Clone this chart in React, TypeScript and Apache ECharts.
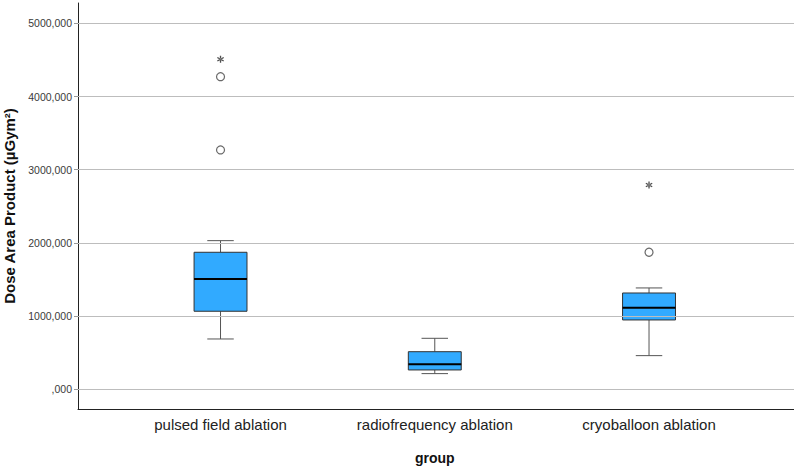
import React, { useEffect, useRef } from "react";
import * as echarts from "echarts";

const categories = ["pulsed field ablation", "radiofrequency ablation", "cryoballoon ablation"];
// [min whisker, Q1, median, Q3, max whisker]
const boxStats = [
  [684, 1063, 1505, 1870, 2029],
  [210, 260, 338, 510, 693],
  [456, 944, 1112, 1313, 1382],
];
const outliers = [
  [0, 4272],
  [0, 3270],
  [2, 1870],
];
const extremes = [
  [0, 4510],
  [2, 2790],
];
const yTicks = [0, 1000, 2000, 3000, 4000, 5000];
const yMin = -274;
const yMax = 5280;

const FONT = "'Liberation Sans', Arial, sans-serif";
const ASTERISK =
  "path://M-0.18,-1L0.18,-1L0.18,1L-0.18,1Z" +
  "M0.776,0.656L0.956,0.344L-0.776,-0.656L-0.956,-0.344Z" +
  "M0.956,-0.344L0.776,-0.656L-0.956,0.344L-0.776,0.656Z";

export default function App() {
  const ref = useRef<HTMLDivElement>(null);
  useEffect(() => {
    if (!ref.current) return;
    const chart = echarts.init(ref.current, null, { renderer: "svg" });
    const fmt = (v: number) => (v === 0 ? ",000" : yTicks.includes(v) ? `${v},000` : "");
    chart.setOption({
      animation: false,
      backgroundColor: "#ffffff",
      grid: [
        { left: 78, right: 0, top: 3, bottom: 57, containLabel: false, outerBoundsMode: "none" },
        { left: 113.4, right: 37.85, top: 3, bottom: 57, containLabel: false, outerBoundsMode: "none" },
      ],
      xAxis: [
        {
          type: "value",
          gridIndex: 0,
          min: 0,
          max: 1,
          axisLine: { show: true, onZero: false, lineStyle: { color: "#222", width: 1 } },
          axisTick: { show: false },
          axisLabel: { show: false },
          splitLine: { show: false },
        },
        {
          type: "category",
          gridIndex: 1,
          data: categories,
          axisLine: { show: false },
          axisTick: { show: false },
          axisLabel: { interval: 0, fontSize: 15, color: "#222", margin: 8, fontFamily: FONT },
          splitLine: { show: false },
          name: "group",
          nameLocation: "middle",
          nameGap: 42,
          nameTextStyle: { fontSize: 14, fontWeight: "bold", color: "#111", fontFamily: FONT },
        },
      ],
      yAxis: [
        {
          type: "value",
          gridIndex: 0,
          min: yMin,
          max: yMax,
          splitNumber: 5,
          axisLine: { show: true, onZero: false, lineStyle: { color: "#222", width: 1 } },
          axisTick: { show: true, length: 4, lineStyle: { color: "#999" }, customValues: yTicks },
          axisLabel: {
            fontSize: 10.5,
            color: "#3a3a3a",
            margin: 6,
            fontFamily: FONT,
            customValues: yTicks,
            formatter: fmt,
          },
          splitLine: { show: false },
          name: "Dose Area Product (µGym²)",
          nameLocation: "middle",
          nameRotate: 90,
          nameGap: 57,
          nameTextStyle: { fontSize: 15, fontWeight: "bold", color: "#111", fontFamily: FONT },
        },
        {
          type: "value",
          gridIndex: 1,
          min: yMin,
          max: yMax,
          show: false,
          splitLine: { show: false },
        },
      ],
      series: [
        {
          type: "scatter",
          xAxisIndex: 0,
          yAxisIndex: 0,
          data: [[0.5, -10000]],
          symbolSize: 0,
          silent: true,
          markLine: {
            silent: true,
            symbol: "none",
            label: { show: false },
            lineStyle: { color: "#bdbdbd", width: 1, type: "solid" },
            data: yTicks.map((v) => ({ yAxis: v })),
          },
        },
        {
          type: "custom",
          xAxisIndex: 1,
          yAxisIndex: 1,
          encode: { x: 0, y: [1, 2, 3, 4, 5] },
          data: boxStats.map((s, i) => [i, ...s]),
          renderItem: (params: any, api: any) => {
            const idx = api.value(0);
            const c = (k: number) => api.coord([idx, api.value(k)]);
            const [cx, yLo] = c(1);
            const yQ1 = c(2)[1];
            const yMed = c(3)[1];
            const yQ3 = c(4)[1];
            const yHi = c(5)[1];
            const band = api.size([1, 0])[0];
            const bw = band * 0.247;
            const cw = bw * 0.5;
            const ws = { stroke: "#555", lineWidth: 1 };
            return {
              type: "group",
              children: [
                { type: "line", shape: { x1: cx, y1: yHi, x2: cx, y2: yQ3 }, style: ws },
                { type: "line", shape: { x1: cx, y1: yQ1, x2: cx, y2: yLo }, style: ws },
                { type: "line", shape: { x1: cx - cw / 2, y1: yHi, x2: cx + cw / 2, y2: yHi }, style: ws },
                { type: "line", shape: { x1: cx - cw / 2, y1: yLo, x2: cx + cw / 2, y2: yLo }, style: ws },
                {
                  type: "rect",
                  shape: { x: cx - bw / 2, y: yQ3, width: bw, height: yQ1 - yQ3 },
                  style: { fill: "#31aaff", stroke: "#333", lineWidth: 1 },
                },
                {
                  type: "line",
                  shape: { x1: cx - bw / 2, y1: yMed, x2: cx + bw / 2, y2: yMed },
                  style: { stroke: "#000", lineWidth: 2 },
                },
              ],
            };
          },
        },
        {
          type: "scatter",
          xAxisIndex: 1,
          yAxisIndex: 1,
          data: outliers,
          symbol: "circle",
          symbolSize: 8,
          itemStyle: { color: "#ffffff", borderColor: "#444", borderWidth: 1.2 },
        },
        {
          type: "scatter",
          xAxisIndex: 1,
          yAxisIndex: 1,
          data: extremes,
          symbol: ASTERISK,
          symbolSize: 7,
          itemStyle: { color: "#222" },
        },
      ],
    });
    return () => chart.dispose();
  }, []);
  return (
    <div
      ref={ref}
      style={{ position: "fixed", left: 0, top: 0, width: 794, height: 466, background: "#fff" }}
    />
  );
}
